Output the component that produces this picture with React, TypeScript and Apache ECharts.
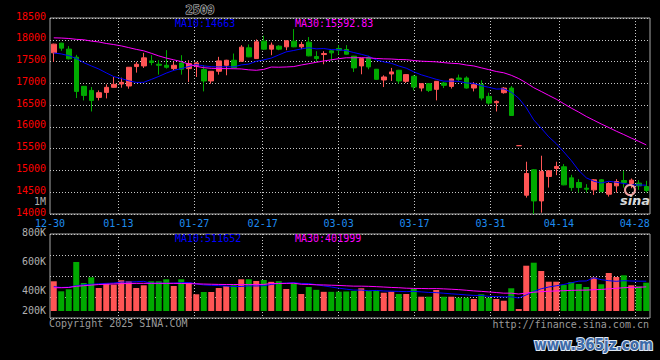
import React, { useEffect, useRef } from 'react';
import * as echarts from 'echarts';

const dates = ['12-30','12-31','01-02','01-03','01-06','01-07','01-08','01-09','01-10','01-13','01-14','01-15','01-16','01-17','01-20','01-21','01-22','01-23','01-24','01-27','02-05','02-06','02-07','02-10','02-11','02-12','02-13','02-14','02-17','02-18','02-19','02-20','02-21','02-24','02-25','02-26','02-27','02-28','03-03','03-04','03-05','03-06','03-07','03-10','03-11','03-12','03-13','03-14','03-17','03-18','03-19','03-20','03-21','03-24','03-25','03-26','03-27','03-28','03-31','04-01','04-02','04-03','04-07','04-08','04-09','04-10','04-11','04-14','04-15','04-16','04-17','04-18','04-21','04-22','04-23','04-24','04-25','04-28','04-29','04-30'];
const tickDates = ['12-30','01-13','01-27','02-17','03-03','03-17','03-31','04-14','04-28'];

const opens = [17700,17923,17785,17600,16931,16838,16677,16792,16908,16985,16939,17385,17400,17515,17438,17415,17338,17469,17338,17400,17315,17054,17277,17415,17530,17508,17815,17569,17969,17785,17854,17838,17969,17838,17946,17615,17661,17746,17800,17777,17623,17400,17592,17323,17077,17215,17300,17046,17162,16892,16992,16862,17008,16930,17123,17123,16892,16977,16700,16554,16785,16892,15569,14431,15015,14300,14861,15046,15084,14830,14723,14592,14554,14785,14454,14646,14769,14700,14708,14631];
const closes = [17900,17808,17562,16815,16723,16608,16785,16908,16977,17023,17369,17438,17585,17477,17415,17369,17415,17323,17454,17469,17054,17277,17515,17530,17361,17831,17608,17954,17785,17877,17785,17977,17838,17892,17631,17569,17684,17700,17761,17669,17354,17569,17377,17092,17146,17262,17054,17200,16915,16992,16838,17046,16954,17100,17092,16892,16969,16662,16546,16585,16892,16262,15569,14930,14300,14977,14992,15092,14669,14607,14607,14569,14785,14515,14700,14746,14723,14777,14646,14538];
const highs = [17910,17930,17854,17654,16940,16916,16838,16977,17146,17130,17370,17492,17700,17646,17530,17761,17492,17646,17530,17492,17415,17280,17608,17540,17684,17877,17892,18008,18092,17938,17877,17985,18246,17954,18062,17738,17738,17761,17877,17877,17630,17575,17631,17330,17184,17354,17310,17210,17184,17000,17000,17050,17031,17110,17200,17161,17031,17069,16785,16608,16915,16938,15569,15200,15030,15338,15000,15200,15146,14900,14800,14685,14800,14800,14730,14800,14992,14815,14777,14762];
const lows = [17490,17746,17550,16662,16608,16354,16608,16654,16900,16900,16877,17246,17354,17415,17200,17338,17300,17200,17031,17146,16815,16992,17200,17185,17338,17492,17600,17560,17770,17646,17761,17761,17830,17785,17620,17492,17438,17508,17661,17660,17261,17208,17323,17085,16915,17054,16992,17008,16838,16815,16800,16608,16892,16880,17046,16880,16815,16608,16508,16354,16762,16262,15569,14376,14000,14030,14607,14892,14660,14531,14492,14492,14438,14500,14400,14492,14607,14592,14554,14492];
const volumes = [505000,335000,369000,833000,476000,573000,391000,464000,447000,522000,505000,391000,437000,505000,505000,539000,425000,539000,481000,284000,323000,323000,391000,425000,437000,539000,539000,510000,527000,496000,507000,374000,468000,289000,408000,360000,326000,326000,328000,332000,340000,386000,345000,345000,311000,328000,289000,289000,374000,243000,243000,357000,243000,243000,226000,226000,204000,284000,226000,204000,175000,386000,34000,770000,821000,680000,498000,498000,442000,493000,459000,408000,570000,454000,646000,578000,607000,437000,420000,481000];

const ma10Head = [17695,17675,17635,17570,17475,17400,17330,17240,17155];
const ma30Head = [18045,18040,18030,18010,18000,17970,17950,17915,17890,17860,17820,17780,17746,17690,17630,17580,17540,17500,17440,17390,17360,17345,17340,17338,17335,17330,17310,17300,17320];
const volMa10Head = [413000,400000,405000,430000,445000,454000,462000,470000,475000];
const volMa30Head = [396000,396000,400000,420000,430000,440000,450000,455000,460000,465000,468000,470000,470000,470000,470000,470000,470000,468000,466000,462000,458000,455000,452000,450000,450000,450000,448000,450000,452000];

const volumeTickLabels = ['800K','600K','400K','200K'];

const UP = '#ff5555';
const DOWN = '#00aa00';
const GRIDC = '#c8c8c8';
const BORDER = '#a8a8a8';
const MONO = 'DejaVu Sans Mono';

function movingAvg(vals: number[], n: number, head: number[]) {
  return vals.map((_, i) => {
    if (i < n - 1) return head[i];
    let s = 0;
    for (let k = i - n + 1; k <= i; k++) s += vals[k];
    return s / n;
  });
}

function txt(text: string, x: number, y: number, fill: string, align = 'left', extra: any = {}) {
  return {
    type: 'text', x, y, silent: true, z: 50,
    style: {
      text, fill, fontFamily: MONO, fontSize: 10,
      align, textAlign: align, verticalAlign: 'middle', textVerticalAlign: 'middle',
      ...extra,
    },
  };
}

export default function App() {
  const ref = useRef<HTMLDivElement>(null);
  useEffect(() => {
    if (!ref.current) return;
    const chart = echarts.init(ref.current, undefined, { renderer: 'svg' });
    const isTick = (i: number) => tickDates.indexOf(dates[i]) >= 0;
    const candleData = dates.map((_, i) => {
      const item: any = { value: [opens[i], closes[i], lows[i], highs[i]] };
      if (opens[i] === closes[i]) item.itemStyle = { color0: UP, borderColor0: UP, color: UP, borderColor: UP };
      return item;
    });
    const volData = volumes.map((v, i) => ({ value: v, itemStyle: { color: closes[i] >= opens[i] ? UP : DOWN } }));
    const dotted = { color: GRIDC, type: [1, 2] as any, width: 1 };
    const hiddenX = { show: false };
    chart.setOption({
      animation: false,
      backgroundColor: '#000',
      grid: [
        { left: 50, top: 18, width: 600, height: 196, show: true, borderColor: BORDER, borderWidth: 1, backgroundColor: 'transparent' },
        { left: 50, top: 234, width: 600, height: 84, show: true, borderColor: BORDER, borderWidth: 1, backgroundColor: 'transparent' },
      ],
      xAxis: [
        { type: 'category', gridIndex: 0, data: dates, boundaryGap: true, axisLine: hiddenX, axisTick: hiddenX, axisLabel: hiddenX, splitLine: hiddenX },
        {
          type: 'category', gridIndex: 0, data: dates, boundaryGap: false, position: 'bottom',
          axisLine: hiddenX, axisTick: hiddenX,
          axisLabel: { show: true, interval: (i: number) => isTick(i), color: '#1e8cf0', fontFamily: MONO, fontSize: 10, margin: 4 },
          splitLine: { show: true, interval: (i: number) => isTick(i) && i > 0, lineStyle: dotted },
        },
        { type: 'category', gridIndex: 1, data: dates, boundaryGap: true, axisLine: hiddenX, axisTick: hiddenX, axisLabel: hiddenX, splitLine: hiddenX },
        {
          type: 'category', gridIndex: 1, data: dates, boundaryGap: false,
          axisLine: hiddenX, axisTick: hiddenX, axisLabel: hiddenX,
          splitLine: { show: true, interval: (i: number) => isTick(i) && i > 0, lineStyle: dotted },
        },
      ],
      yAxis: [
        {
          type: 'value', gridIndex: 0, min: 14000, max: 18500, interval: 500,
          axisLine: hiddenX, axisTick: hiddenX,
          axisLabel: { color: '#ff0000', fontFamily: MONO, fontSize: 10, margin: 4, verticalAlign: 'bottom', lineHeight: 4, formatter: (v: number) => String(v) },
          splitLine: { show: true, lineStyle: dotted },
        },
        { type: 'value', gridIndex: 1, min: -119000, max: 1309000, axisLine: hiddenX, axisTick: hiddenX, axisLabel: hiddenX, splitLine: hiddenX },
        {
          type: 'value', gridIndex: 1, min: 0, max: 4, interval: 1,
          axisLine: hiddenX, axisTick: hiddenX, axisLabel: hiddenX,
          splitLine: { show: true, lineStyle: dotted },
        },
      ],
      series: [
        {
          type: 'candlestick', xAxisIndex: 0, yAxisIndex: 0, data: candleData, barWidth: 5,
          itemStyle: { color: UP, color0: DOWN, borderColor: UP, borderColor0: DOWN, borderWidth: 1 },
        },
        { type: 'line', xAxisIndex: 0, yAxisIndex: 0, data: movingAvg(closes, 10, ma10Head), symbol: 'none', lineStyle: { color: '#0000ff', width: 1 }, z: 5 },
        { type: 'line', xAxisIndex: 0, yAxisIndex: 0, data: movingAvg(closes, 30, ma30Head), symbol: 'none', lineStyle: { color: '#ff00ff', width: 1 }, z: 5 },
        { type: 'bar', xAxisIndex: 2, yAxisIndex: 1, data: volData, barWidth: 6 },
        { type: 'line', xAxisIndex: 2, yAxisIndex: 1, data: movingAvg(volumes, 10, volMa10Head), symbol: 'none', lineStyle: { color: '#0000ff', width: 1 }, z: 5 },
        { type: 'line', xAxisIndex: 2, yAxisIndex: 1, data: movingAvg(volumes, 30, volMa30Head), symbol: 'none', lineStyle: { color: '#ff00ff', width: 1 }, z: 5 },
      ],
      graphic: [
        txt('2509', 200, 10, '#202020', 'center', { stroke: '#d0d0d0', lineWidth: 1, fontSize: 12, fontWeight: 'bold' }),
        txt('MA10:14663', 175, 23, '#0000ff'),
        txt('MA30:15592.83', 295, 23, '#ff00ff'),
        txt('1M', 46, 201.5, '#b0b0b0', 'right', { lineHeight: 9 }),
        txt('MA10:511652', 175, 238, '#0000ff'),
        txt('MA30:401999', 295, 238, '#ff00ff'),
        txt(volumeTickLabels[0], 46, 232, '#b0b0b0', 'right'),
        txt(volumeTickLabels[1], 46, 261, '#b0b0b0', 'right'),
        txt(volumeTickLabels[2], 46, 290, '#b0b0b0', 'right'),
        txt(volumeTickLabels[3], 46, 310, '#b0b0b0', 'right'),
        txt('Copyright 2025 SINA.COM', 49, 323, '#9a9a9a'),
        txt('http://finance.sina.com.cn', 649, 324, '#9a9a9a', 'right'),
        { type: 'circle', shape: { cx: 630, cy: 190, r: 5 }, style: { fill: 'none', stroke: '#f0a0a0', lineWidth: 2 }, z: 40, silent: true },
        txt('sina', 635, 200, '#d8d8d8', 'center', { fontFamily: 'DejaVu Sans', fontSize: 13, fontWeight: 'bold', fontStyle: 'italic' }),
        txt('www.365jz.com', 653, 345, '#3d6aa8', 'right', { fontFamily: 'DejaVu Sans Condensed', fontSize: 15, fontWeight: 'bold', stroke: '#dfe8f5', lineWidth: 2 }),
      ],
    });
    return () => chart.dispose();
  }, []);
  return <div ref={ref} style={{ position: 'fixed', left: 0, top: 0, width: 660, height: 360, background: '#000' }} />;
}
